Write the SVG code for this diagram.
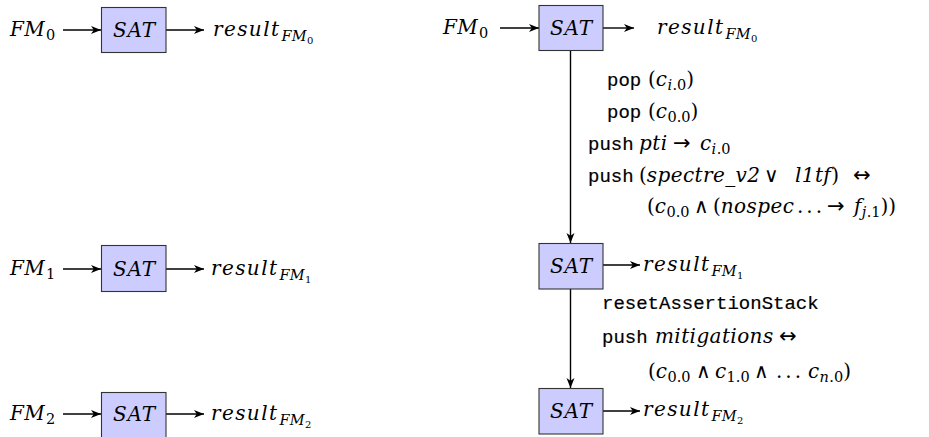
<svg xmlns="http://www.w3.org/2000/svg" width="929" height="437" viewBox="0 0 929 437">
<style>
.box{fill:#ccccff;stroke:#333;stroke-width:1.1}
.m{font-family:'DejaVu Serif','Liberation Serif',serif;font-style:italic;font-size:20px;letter-spacing:0.4px;fill:#000}
.sat{font-family:'DejaVu Serif','Liberation Serif',serif;font-style:italic;font-size:20px;letter-spacing:0.8px;fill:#000}
.up{font-style:normal;letter-spacing:0}
.ar{font-family:'DejaVu Sans',sans-serif;font-style:normal;font-size:21px;letter-spacing:0}
.rs{letter-spacing:1.4px}
.s1{font-size:14.5px}
.s2{font-size:10px;font-style:normal}
.dots{font-style:normal;letter-spacing:3px}
.tt{font-family:'Liberation Mono','DejaVu Sans Mono',monospace;font-size:19px;fill:#000;stroke:#000;stroke-width:0.2}
.conn line{stroke:#000;stroke-width:1.4;marker-end:url(#ah)}
</style>
<defs>
<marker id="ah" markerWidth="11" markerHeight="9" refX="10" refY="4.5" orient="auto" markerUnits="userSpaceOnUse">
<path d="M0,0.5 L10,4.5 L0,8.5 L2.8,4.5 Z" fill="#000"/>
</marker>
</defs>
<rect width="929" height="437" fill="#fff"/>

<g id="connectors" class="conn">
<line x1="63" y1="30" x2="101" y2="30"/>
<line x1="166" y1="30" x2="204" y2="30"/>
<line x1="63" y1="269" x2="101" y2="269"/>
<line x1="166" y1="269" x2="204" y2="269"/>
<line x1="63" y1="414" x2="101" y2="414"/>
<line x1="166" y1="414" x2="204" y2="414"/>
<line x1="500" y1="28" x2="539" y2="28"/>
<line x1="603" y1="28" x2="634" y2="28"/>
<line x1="570.5" y1="50" x2="570.5" y2="243"/>
<line x1="603" y1="265" x2="640" y2="265"/>
<line x1="570.5" y1="289" x2="570.5" y2="388"/>
<line x1="603" y1="411" x2="640" y2="411"/>
</g>

<g id="left-sat-0"><rect class="box" x="101.5" y="7.5" width="64.5" height="45"/><text class="sat" x="134.5" y="37" text-anchor="middle">SAT</text></g>
<g id="left-sat-1"><rect class="box" x="101.5" y="245.5" width="64.5" height="46"/><text class="sat" x="134.5" y="276" text-anchor="middle">SAT</text></g>
<g id="left-sat-2"><rect class="box" x="101.5" y="392.5" width="64.5" height="46"/><text class="sat" x="134.5" y="421" text-anchor="middle">SAT</text></g>
<g id="right-sat-0"><rect class="box" x="539" y="5.5" width="64" height="45"/><text class="sat" x="571.5" y="35" text-anchor="middle">SAT</text></g>
<g id="right-sat-1"><rect class="box" x="539" y="243.5" width="64" height="45.5"/><text class="sat" x="571.5" y="273" text-anchor="middle">SAT</text></g>
<g id="right-sat-2"><rect class="box" x="539" y="388.5" width="64" height="45.5"/><text class="sat" x="571.5" y="418" text-anchor="middle">SAT</text></g>

<g id="left-fm-0"><text class="m" x="10" y="36">FM<tspan class="up s1" x="46" dy="4">0</tspan></text></g>
<g id="left-result-0"><text class="m" x="213" y="36"><tspan class="rs">result</tspan><tspan class="s1" dx="1" dy="5">FM</tspan><tspan class="s2" dy="3">0</tspan></text></g>
<g id="left-fm-1"><text class="m" x="10" y="275">FM<tspan class="up s1" x="46" dy="4">1</tspan></text></g>
<g id="left-result-1"><text class="m" x="211" y="275"><tspan class="rs">result</tspan><tspan class="s1" dx="1" dy="5">FM</tspan><tspan class="s2" dy="3">1</tspan></text></g>
<g id="left-fm-2"><text class="m" x="10" y="420">FM<tspan class="up s1" x="46" dy="4">2</tspan></text></g>
<g id="left-result-2"><text class="m" x="211" y="420"><tspan class="rs">result</tspan><tspan class="s1" dx="1" dy="5">FM</tspan><tspan class="s2" dy="3">2</tspan></text></g>

<g id="right-fm-0"><text class="m" x="443" y="34">FM<tspan class="up s1" x="479" dy="4">0</tspan></text></g>
<g id="right-result-0"><text class="m" x="657" y="34"><tspan class="rs">result</tspan><tspan class="s1" dx="1" dy="5">FM</tspan><tspan class="s2" dy="3">0</tspan></text></g>
<g id="right-result-1"><text class="m" x="643" y="271"><tspan class="rs">result</tspan><tspan class="s1" dx="1" dy="5">FM</tspan><tspan class="s2" dy="3">1</tspan></text></g>
<g id="right-result-2"><text class="m" x="643" y="416"><tspan class="rs">result</tspan><tspan class="s1" dx="1" dy="5">FM</tspan><tspan class="s2" dy="3">2</tspan></text></g>

<g id="label-step1">
<text class="tt" x="607" y="86">pop</text>
<text class="tt" x="607" y="118">pop</text>
<text class="tt" x="588" y="150">push</text>
<text class="tt" x="588" y="182">push</text>
<text class="m" x="648" y="86"><tspan class="up">(</tspan>c<tspan class="s1" dy="4">i<tspan class="up">.0</tspan></tspan><tspan class="up" dy="-4">)</tspan></text>
<text class="m" x="648" y="118"><tspan class="up">(</tspan>c<tspan class="s1 up" dy="4">0.0</tspan><tspan class="up" dy="-4">)</tspan></text>
<text class="m" x="639" y="150">pti<tspan class="ar" x="673">→</tspan><tspan x="700">c</tspan><tspan class="s1" dy="4">i<tspan class="up">.0</tspan></tspan></text>
<text class="m" x="639" y="182"><tspan class="up">(</tspan>spectre_v2<tspan class="up" x="764">∨</tspan><tspan x="795">l1tf</tspan><tspan class="up">)</tspan><tspan class="ar" x="853">↔</tspan></text>
<text class="m" x="647" y="213"><tspan class="up">(</tspan>c<tspan class="s1 up" dy="4">0.0</tspan><tspan class="up" x="694" dy="-4">∧</tspan><tspan class="up" x="713">(</tspan>nospec<tspan class="dots" x="797">...</tspan><tspan class="ar" x="827">→</tspan><tspan x="854">f</tspan><tspan class="s1" dy="4">j<tspan class="up">.1</tspan></tspan><tspan class="up" dy="-4">))</tspan></text>
</g>

<g id="label-step2">
<text class="tt" x="602" y="309">resetAssertionStack</text>
<text class="tt" x="602" y="343">push</text>
<text class="m" x="655" y="343">mitigations<tspan class="ar" x="779">↔</tspan></text>
<text class="m" x="648" y="378"><tspan class="up">(</tspan>c<tspan class="s1 up" dy="4">0.0</tspan><tspan class="up" x="696" dy="-4">∧</tspan><tspan x="715">c</tspan><tspan class="s1 up" dy="4">1.0</tspan><tspan class="up" x="754" dy="-4">∧</tspan><tspan class="dots" x="776">...</tspan><tspan x="808">c</tspan><tspan class="s1" dy="4">n<tspan class="up">.0</tspan></tspan><tspan class="up" dy="-4">)</tspan></text>
</g>
</svg>
